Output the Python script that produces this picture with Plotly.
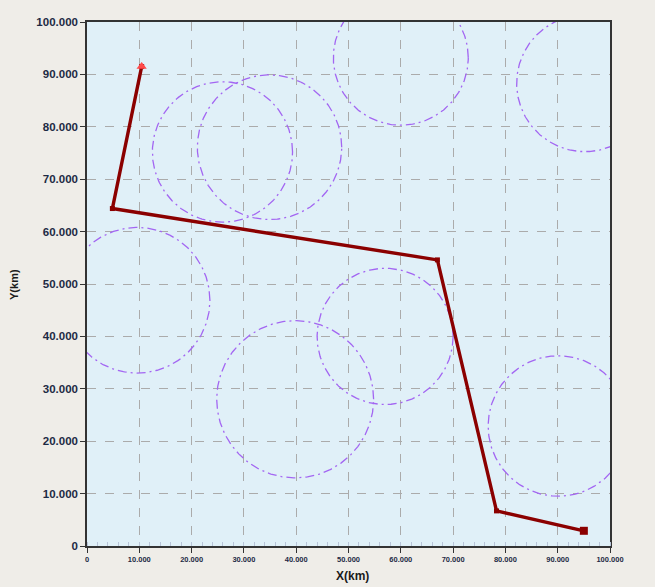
import numpy as np
import plotly.graph_objects as go

# path (km)
path_x = [10.45, 4.85, 67.0, 78.3, 95.0]
path_y = [91.5, 64.4, 54.6, 6.7, 2.9]

# threat circles: centre x, centre y, radius (km)
circle_cx = [25.9, 34.9, 60.0, 95.2, 9.6, 39.8, 57.0, 90.1]
circle_cy = [75.2, 76.1, 93.2, 88.3, 46.9, 28.0, 40.0, 22.9]
circle_r = [13.4, 13.8, 12.9, 13.05, 13.9, 15.0, 13.0, 13.4]

tick_vals = [0, 10, 20, 30, 40, 50, 60, 70, 80, 90, 100]
tick_text = ["0", "10.000", "20.000", "30.000", "40.000", "50.000",
             "60.000", "70.000", "80.000", "90.000", "100.000"]

fig = go.Figure()

theta = np.linspace(0, 2 * np.pi, 361)
for cx, cy, r in zip(circle_cx, circle_cy, circle_r):
    fig.add_trace(go.Scatter(
        x=cx + r * np.cos(theta), y=cy + r * np.sin(theta),
        mode="lines", line=dict(color="#a366f2", width=1.3, dash="9px,4px,2px,4px"),
        hoverinfo="skip", showlegend=False))

fig.add_trace(go.Scatter(
    x=path_x, y=path_y, mode="lines+markers",
    line=dict(color="#8b0000", width=3.4),
    marker=dict(color="#8b0000", size=5, symbol="square"),
    showlegend=False))
fig.add_trace(go.Scatter(
    x=path_x[:1], y=path_y[:1], mode="markers",
    marker=dict(color="#ff4a4a", size=9, symbol="triangle-up"),
    showlegend=False))
fig.add_trace(go.Scatter(
    x=path_x[-1:], y=path_y[-1:], mode="markers",
    marker=dict(color="#8b0000", size=8, symbol="square"),
    showlegend=False))

axis_common = dict(
    range=[0, 100], tickvals=tick_vals, ticktext=tick_text,
    showgrid=True, gridcolor="#ababab", griddash="dash", gridwidth=1,
    zeroline=False, showline=True, linecolor="#333333", linewidth=1.5,
    mirror=True, ticks="outside", ticklen=5, tickcolor="#333333",
)

fig.update_xaxes(**axis_common,
                 tickfont=dict(family="Arial", size=7.5, color="#1d2a44", weight="bold"),
                 minor=dict(dtick=2, ticks="inside", ticklen=4, tickcolor="#b8c4d8", showgrid=False))
fig.update_yaxes(**axis_common,
                 tickfont=dict(family="Arial", size=11.5, color="#1d2a44", weight="bold"))

fig.add_annotation(text="X(km)", xref="paper", yref="paper", x=0.507, y=-0.057,
                   showarrow=False, xanchor="center", yanchor="middle",
                   font=dict(family="Arial", size=12, color="#1a1a1a", weight="bold"))
fig.add_annotation(text="Y(km)", xref="paper", yref="paper", x=-0.1396, y=0.5,
                   showarrow=False, xanchor="center", yanchor="middle", textangle=-90,
                   font=dict(family="Arial", size=11, color="#1a1a1a", weight="bold"))

fig.update_layout(
    width=655, height=587,
    margin=dict(l=87, r=45, t=22, b=41),
    paper_bgcolor="#efede8",
    plot_bgcolor="#e0f0f8",
)

fig.write_html(
    "out.html",
    config={"displayModeBar": False},
    post_script="document.body.style.margin='0';document.body.style.background='#efede8';document.body.style.overflow='hidden';",
)
